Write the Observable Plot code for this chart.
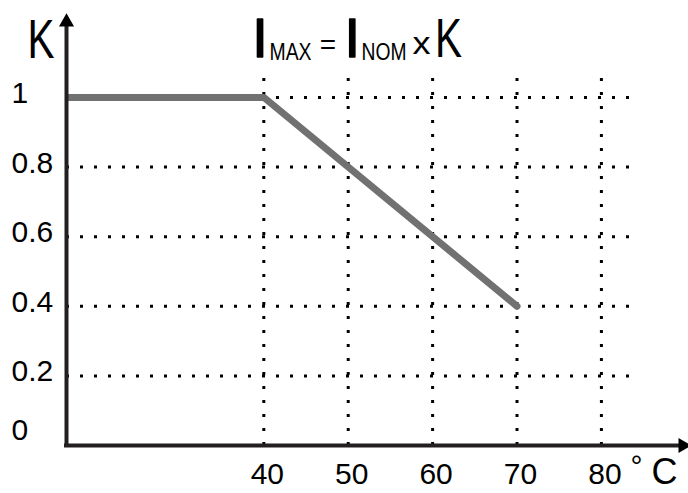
<!DOCTYPE html>
<html>
<head>
<meta charset="utf-8">
<script src="https://cdn.jsdelivr.net/npm/d3@7"></script>
<script src="https://cdn.jsdelivr.net/npm/@observablehq/plot@0.6"></script>
<style>
  html, body { margin: 0; padding: 0; background: #fff; }
  #chart { width: 688px; height: 493px; overflow: hidden; }
</style>
</head>
<body>
<div id="chart"></div>
<script>
// Derating curve: k vs temperature (°C)
const temps = [0, 40, 70];
const kValues = [1, 1, 0.4];

const xTicks = [40, 50, 60, 70, 80];
const xTickLabels = ["40", "50", "60", "70", "80"];
const yTicks = [0.2, 0.4, 0.6, 0.8, 1];
const yTickLabels = ["0.2", "0.4", "0.6", "0.8", "1"];
const zeroTick = [0];
const zeroLabel = ["0"];

const xMin = 16.62, xMax = 90.32;
const yMin = 0, yMax = 1.241;
const hGridEnd = 83.4;
const vGridTop = 1.08;

const digitFont = "'Liberation Sans', Arial, sans-serif";
const letterFont = "'Liberation Sans', Arial, sans-serif";
const axisColor = "#231f20";

const ML = 66, MT = 13;
function label(str, px, py, size, font, extra) {
  return Plot.text([str], Object.assign({
    text: d => d,
    frameAnchor: "top-left",
    dx: px - ML, dy: py - MT,
    textAnchor: "middle", lineAnchor: "middle",
    fontSize: size, fontFamily: font, fill: "black"
  }, extra || {}));
}

// condensed widths for the narrow lettering (applied after render)
const narrowText = ["K", "MAX", "NOM", "x"];
const narrowWidth = [27, 42, 45, 18];

const curve = temps.map((t, i) => ({t, k: kValues[i]}));

const chart = Plot.plot({
  width: 688,
  height: 493,
  marginLeft: ML,
  marginRight: 0,
  marginTop: MT,
  marginBottom: 48,
  style: {background: "white", fontFamily: digitFont},
  x: {domain: [xMin, xMax], axis: null},
  y: {domain: [yMin, yMax], axis: null},
  marks: [
    // dotted grid
    Plot.ruleY(yTicks, {y: d => d, x1: xMin, x2: hGridEnd, stroke: "black", strokeWidth: 3, strokeDasharray: "3,11"}),
    Plot.ruleX(xTicks, {x: d => d, y1: 0, y2: vGridTop, stroke: "black", strokeWidth: 3, strokeDasharray: "3,11"}),
    // derating curve
    Plot.line(curve, {x: "t", y: "k", stroke: "#717171", strokeWidth: 7, strokeLinejoin: "miter", clip: true}),
    // axes with arrows
    Plot.ruleX([xMin], {y1: 0, y2: 1.2164, stroke: axisColor, strokeWidth: 4, strokeLinecap: "square"}),
    Plot.ruleY([0], {x1: xMin, x2: 89.65, stroke: axisColor, strokeWidth: 4, strokeLinecap: "square"}),
    Plot.dot([0], {x: xMin, y: 1.2164, symbol: "triangle", r: 5.6, fill: "black", stroke: "none"}),
    Plot.dot([0], {x: 89.65, y: 0, symbol: "triangle", rotate: 90, r: 5.6, fill: "black", stroke: "none"}),
    // y tick labels
    Plot.text(yTicks, {y: d => d, text: (d, i) => yTickLabels[i], frameAnchor: "left", dx: -55, dy: -4,
      textAnchor: "start", lineAnchor: "middle", fontSize: 30, fontFamily: digitFont, fill: "black"}),
    Plot.text(zeroTick, {y: d => d, text: (d, i) => zeroLabel[i], frameAnchor: "left", dx: -55, dy: -15,
      textAnchor: "start", lineAnchor: "middle", fontSize: 30, fontFamily: digitFont, fill: "black"}),
    // x tick labels
    Plot.text(xTicks, {x: d => d, text: (d, i) => xTickLabels[i], frameAnchor: "bottom", dx: 3.5, dy: 28.5,
      textAnchor: "middle", lineAnchor: "middle", fontSize: 30, fontFamily: digitFont, fill: "black"}),
    // unit
    label("°", 636, 466, 30, digitFont),
    label("C", 664, 472, 36, letterFont),
    // axis name
    label("K", 40.5, 40, 56, letterFont),
    // formula
    label("I", 259.5, 39, 56, letterFont, {stroke: "black", strokeWidth: 1.5}),
    label("MAX", 290, 51.5, 24, letterFont),
    label("=", 327.5, 45, 28, digitFont),
    label("I", 351.7, 39, 56, letterFont, {stroke: "black", strokeWidth: 1.5}),
    label("NOM", 383.5, 52.5, 23, letterFont),
    label("x", 421, 43, 32, letterFont),
    label("K", 448, 39, 56, letterFont)
  ]
});

d3.select(chart).selectAll("text").each(function() {
  const i = narrowText.indexOf(this.textContent);
  if (i >= 0) {
    d3.select(this)
      .attr("textLength", narrowWidth[i])
      .attr("lengthAdjust", "spacingAndGlyphs");
  }
});

document.getElementById("chart").appendChild(chart);
</script>
</body>
</html>
